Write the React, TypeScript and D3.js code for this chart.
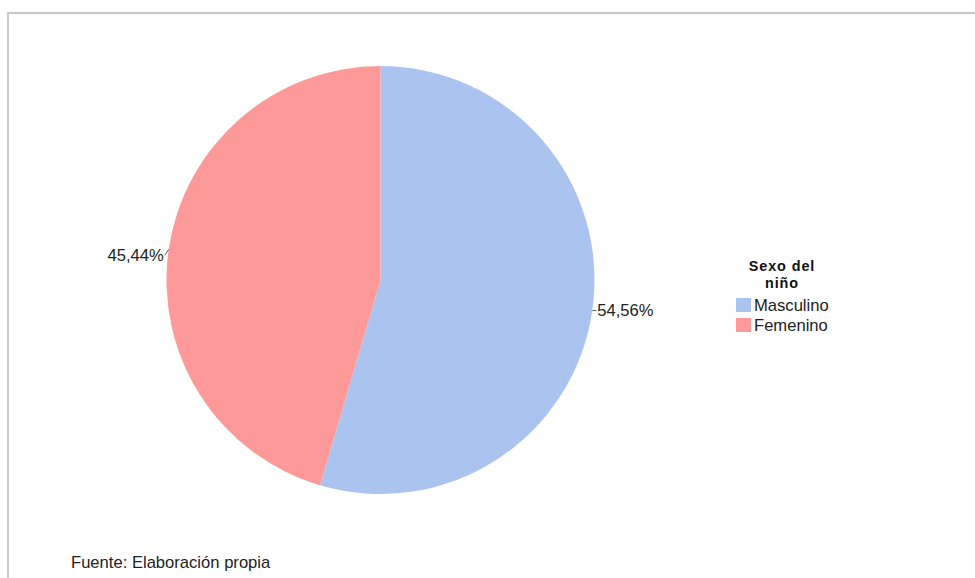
import React from "react";
import * as d3 from "d3";

const categories = ["Masculino", "Femenino"];
const values = [54.56, 45.44];
const labels = ["54,56%", "45,44%"];
const colors = ["#abc3ef", "#fe9999"];
const legendTitle = ["Sexo del", "niño"];
const footer = "Fuente: Elaboración propia";

export default function App() {
  const W = 975, H = 578;
  const cx = 380.5, cy = 280, r = 214;
  const pie = d3.pie<number>().sort(null).value((d) => d);
  const arcs = pie(values);
  const arc = d3.arc<d3.PieArcDatum<number>>().innerRadius(0).outerRadius(r);
  const font = "'Liberation Sans', Arial, sans-serif";
  const fs = 16.6;
  return (
    <svg width={W} height={H} style={{ position: "absolute", left: 0, top: 0, background: "#fff" }} fontFamily={font}>
      <path d={`M8,${H} L8,13 L${W},13`} fill="none" stroke="#c8c8c8" strokeWidth={2} />
      <g transform={`translate(${cx},${cy})`}>
        {arcs.map((a, i) => (
          <path key={i} d={arc(a) || ""} fill={colors[i]} />
        ))}
        {arcs.map((a, i) => {
          const m = (a.startAngle + a.endAngle) / 2;
          const sx = Math.sin(m), sy = -Math.cos(m);
          const x1 = sx * r, y1 = sy * r;
          const right = sx > 0;
          const x2 = x1 + (right ? 4 : -4);
          const y2 = y1 + (right ? 0 : 6);
          return (
            <g key={"l" + i}>
              <line x1={x1} y1={y1} x2={x2} y2={y2} stroke="#555" strokeWidth={1} />
              <text x={x2 + (right ? 1 : -1)} y={y2} dy="0.35em" fontSize={fs} fill="#222"
                textAnchor={right ? "start" : "end"}>{labels[i]}</text>
            </g>
          );
        })}
      </g>
      <g>
        {legendTitle.map((t, i) => (
          <text key={t} x={782} y={271 + i * 16.5} fontSize={14.4} letterSpacing={0.9}
            fontWeight="bold" textAnchor="middle" fill="#111">{t}</text>
        ))}
        {categories.map((c, i) => (
          <g key={c} transform={`translate(736,${298 + i * 20})`}>
            <rect width={15} height={14} fill={colors[i]} />
            <text x={18} y={7.5} dy="0.35em" fontSize={fs} fill="#222">{c}</text>
          </g>
        ))}
      </g>
      <text x={71} y={568} fontSize={fs} fill="#222">{footer}</text>
    </svg>
  );
}
